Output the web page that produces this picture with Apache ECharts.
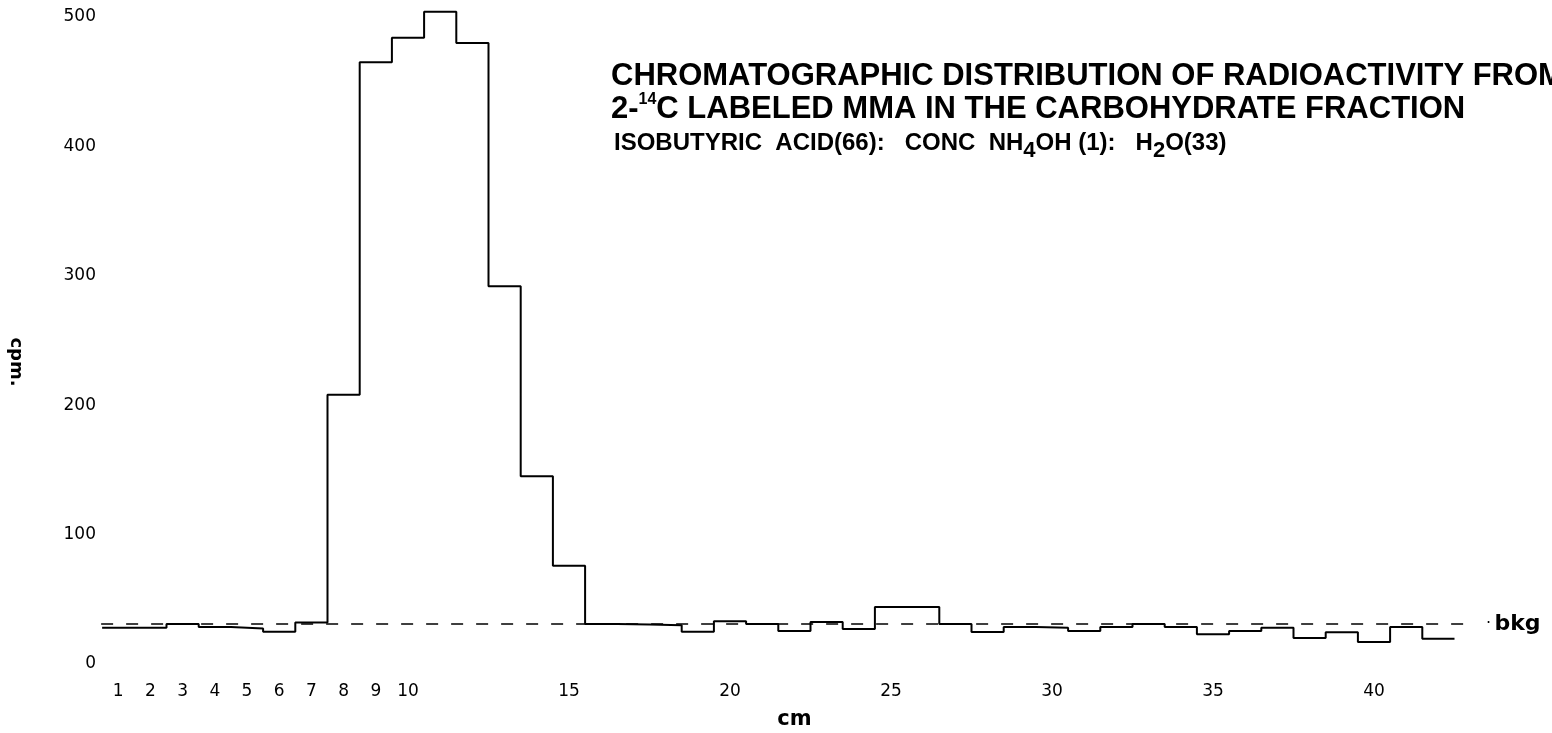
<!DOCTYPE html>
<html>
<head>
<meta charset="utf-8">
<script src="https://cdn.jsdelivr.net/npm/echarts@6/dist/echarts.min.js"></script>
<style>
  html, body { margin: 0; padding: 0; background: #fff; }
  #chart { width: 1552px; height: 733px; }
</style>
</head>
<body>
<div id="chart"></div>
<script>
// Strip position (cm) of each 1 cm slice counted along the chromatogram
const stripCm = [1, 2, 3, 4, 5, 6, 7, 8, 9, 10, 11, 12, 13, 14, 15, 16, 17, 18, 19, 20, 21,
                 22, 23, 24, 25, 26, 27, 28, 29, 30, 31, 32, 33, 34, 35, 36, 37, 38, 39, 40, 41, 42];
// Counts per minute measured in each slice
const cpmValues = [28, 28, 31, 28.5, 27.5, 25, 32, 208, 465, 484, 504, 480, 292, 145, 76, 31, 30.5,
                   30, 25, 33, 31, 25.5, 32.5, 27, 44, 44, 31, 24.7, 28.5, 28, 25.5, 28.5, 31, 28.5,
                   23, 25.5, 28, 20, 24.5, 17, 28.5, 19.5];
// Background count level
const bkgLevel = 31;
// Labelled positions on the cm axis and on the cpm axis
const cmTickLabels = [1, 2, 3, 4, 5, 6, 7, 8, 9, 10, 15, 20, 25, 30, 35, 40];
const cpmTickLabels = [0, 100, 200, 300, 400, 500];

// Histogram outline: each slice holds its count from its left edge to its right edge
const half = 0.5;
const stepPoints = stripCm.map((c, i) => [c - half, cpmValues[i]]);
stepPoints.push([stripCm[stripCm.length - 1] + half, cpmValues[cpmValues.length - 1]]);

const tickFont = "'DejaVu Sans', sans-serif";
const titleFont = "'Liberation Sans', Arial, sans-serif";

const chart = echarts.init(document.getElementById('chart'), null, { renderer: 'canvas' });

chart.setOption({
  backgroundColor: '#fff',
  animation: false,
  title: [
    {
      left: 606, top: 56,
      text: 'CHROMATOGRAPHIC DISTRIBUTION OF RADIOACTIVITY FROM',
      textStyle: { fontFamily: titleFont, fontWeight: 'bold', fontSize: 31, color: '#000' }
    },
    {
      left: 606, top: 87,
      text: '2-{sup|14}C LABELED MMA IN THE CARBOHYDRATE FRACTION',
      textStyle: {
        fontFamily: titleFont, fontWeight: 'bold', fontSize: 31, color: '#000',
        rich: {
          sup: { fontFamily: titleFont, fontWeight: 'bold', fontSize: 16, color: '#000', padding: [0, 0, 18, 0] }
        }
      }
    },
    {
      left: 609, top: 120,
      text: 'ISOBUTYRIC  ACID(66):   CONC  NH{sub|4}OH (1):   H{sub|2}O(33)',
      textStyle: {
        fontFamily: titleFont, fontWeight: 'bold', fontSize: 24, color: '#000',
        rich: {
          sub: { fontFamily: titleFont, fontWeight: 'bold', fontSize: 22, color: '#000', padding: [15, 0, 0, 0] }
        }
      }
    }
  ],
  graphic: [
    {
      type: 'text', x: 16, y: 362, rotation: -Math.PI / 2,
      style: {
        text: 'cpm.', fontFamily: tickFont, fontWeight: 'bold', fontSize: 18, fill: '#000',
        align: 'center', verticalAlign: 'middle'
      }
    }
  ],
  grid: { left: 86, right: 49.2, top: 17, bottom: 69, outerBoundsMode: 'none' },
  xAxis: {
    type: 'value', min: 0, max: 44,
    name: 'cm', nameLocation: 'middle', nameGap: 45,
    nameTextStyle: { fontFamily: tickFont, fontWeight: 'bold', fontSize: 21, color: '#000' },
    axisLine: { show: false }, axisTick: { show: false }, splitLine: { show: false },
    axisLabel: {
      customValues: cmTickLabels, margin: 19,
      fontFamily: tickFont, fontSize: 17, color: '#000'
    }
  },
  yAxis: {
    type: 'value', min: 0, max: 500, interval: 100,
    axisLine: { show: false }, axisTick: { show: false }, splitLine: { show: false },
    axisLabel: {
      customValues: cpmTickLabels, margin: -10,
      fontFamily: tickFont, fontSize: 17, color: '#000'
    }
  },
  series: [
    {
      type: 'line', step: 'end', data: stepPoints, showSymbol: false, clip: false,
      lineStyle: { color: '#000', width: 2 },
      markLine: {
        silent: true, symbol: 'none',
        lineStyle: { color: '#000', width: 1.6, type: [12, 13] },
        label: {
          show: true, position: 'end', distance: 18,
          formatter: '{dot|·} {b|bkg}',
          rich: {
            dot: { fontFamily: tickFont, fontSize: 16, color: '#000' },
            b: { fontFamily: tickFont, fontWeight: 'bold', fontSize: 22, color: '#000' }
          }
        },
        data: [[{ coord: [0.47, bkgLevel] }, { coord: [42.92, bkgLevel] }]]
      }
    }
  ]
});
</script>
</body>
</html>
